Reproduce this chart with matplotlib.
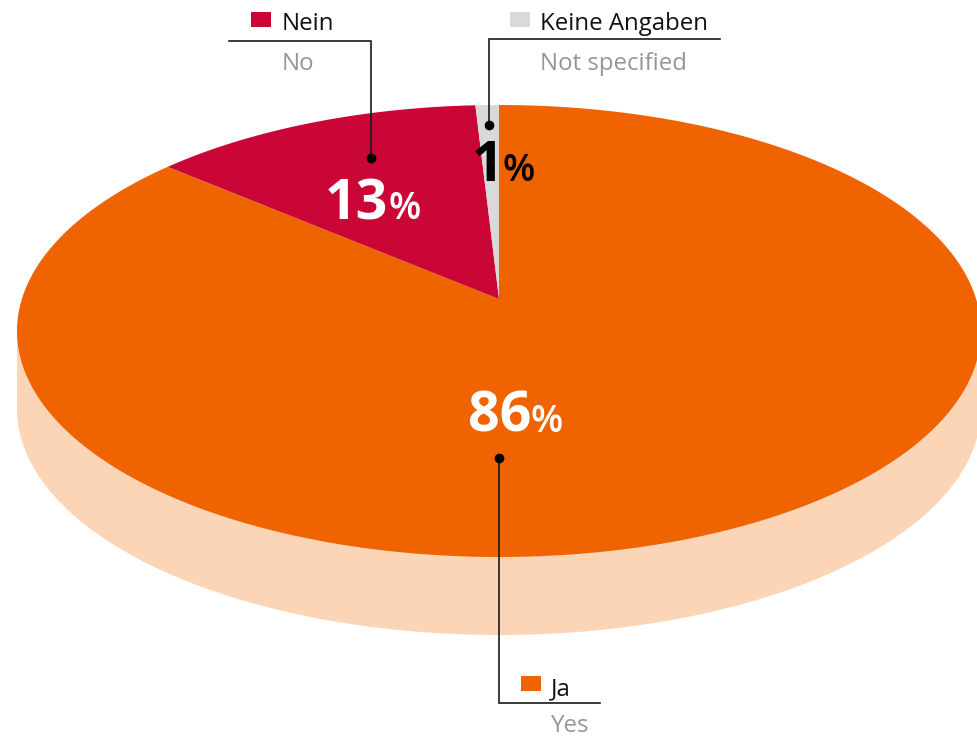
import numpy as np
import matplotlib
matplotlib.use('Agg')
import matplotlib.pyplot as plt
from matplotlib.patches import Ellipse, Rectangle

# werte aus dem bild
labels_de = ['Ja', 'Nein', 'Keine Angaben']
labels_en = ['Yes', 'No', 'Not specified']
pct_labels = ['86', '13', '1']
values = [86.3, 12.8, 0.9]  # segmente wie gezeichnet, beschriftung ist gerundet
colors = ['#EF6400', '#C90636', '#D9D9D9']
pct_colors = ['white', 'white', 'black']

# geometrie in pixeln
cx, cy = 499, 331
rx, ry = 482, 226
apex_y = 299
depth = 78
side_color = '#FCD5B7'

plt.rcParams['font.family'] = ['Open Sans', 'DejaVu Sans']

fig = plt.figure(figsize=(9.78, 7.38), dpi=100)
ax = fig.add_axes([0, 0, 1, 1])
ax.set_xlim(0, 978)
ax.set_ylim(738, 0)
ax.axis('off')


# kreis -> ellipse, mitte des kreises landet auf apex_y (perspektive)
def project(ang):
  u = np.cos(ang)
  v = np.sin(ang)
  a = (cy - apex_y) / ry
  w = 1 + a * v
  x = cx + rx * np.sqrt(1 - a * a) * u / w
  y = cy - (ry * v + (cy - apex_y)) / w
  return x, y


# seitenwand
ax.add_patch(Ellipse((cx, cy + depth), 2 * rx, 2 * ry, color=side_color, lw=0))
ax.add_patch(Rectangle((cx - rx, cy), 2 * rx, depth, color=side_color, lw=0))

# segmente im uhrzeigersinn von oben
start = 90.0
for val, col in zip(values, colors):
  end = start - val * 3.6
  ang = np.radians(np.linspace(start, end, 300))
  x, y = project(ang)
  ax.fill(np.r_[cx, x], np.r_[apex_y, y], color=col, lw=0)
  start = end

# prozentzahlen: (trennung zahl / %, grundlinie)
pct_pos = [(531, 432), (388, 219), (503, 181)]
for txt, col, (px, py) in zip(pct_labels, pct_colors, pct_pos):
  ax.text(px, py, txt, color=col, fontsize=40, fontweight='bold', ha='right', va='baseline')
  ax.text(px, py, '%', color=col, fontsize=27, fontweight='semibold', ha='left', va='baseline')

# fuehrungslinien
line_col = '#1a1a1a'
ax.plot([229, 371, 371], [41, 41, 158], color=line_col, lw=1.2, solid_joinstyle='miter')
ax.plot([720, 489, 489], [39, 39, 125], color=line_col, lw=1.2, solid_joinstyle='miter')
ax.plot([499, 499, 600], [458, 703, 703], color=line_col, lw=1.2, solid_joinstyle='miter')
ax.plot([371, 489, 499], [158, 125, 458], 'o', color='black', ms=7, mew=0)

# legende: (quadrat x, quadrat y, text x, grundlinie de, grundlinie en)
legend_pos = [(521, 676, 551, 695, 731.5), (251, 12, 282, 30, 70), (510, 12, 540, 30, 70)]
for de, en, col, (sx, sy, tx, y1, y2) in zip(labels_de, labels_en, colors, legend_pos):
  ax.add_patch(Rectangle((sx, sy), 20, 15, color=col, lw=0))
  ax.text(tx, y1, de, color='#111111', fontsize=17.3, ha='left', va='baseline')
  ax.text(tx, y2, en, color='#969696', fontsize=17.3, ha='left', va='baseline')

fig.savefig('out.png', dpi=100)
